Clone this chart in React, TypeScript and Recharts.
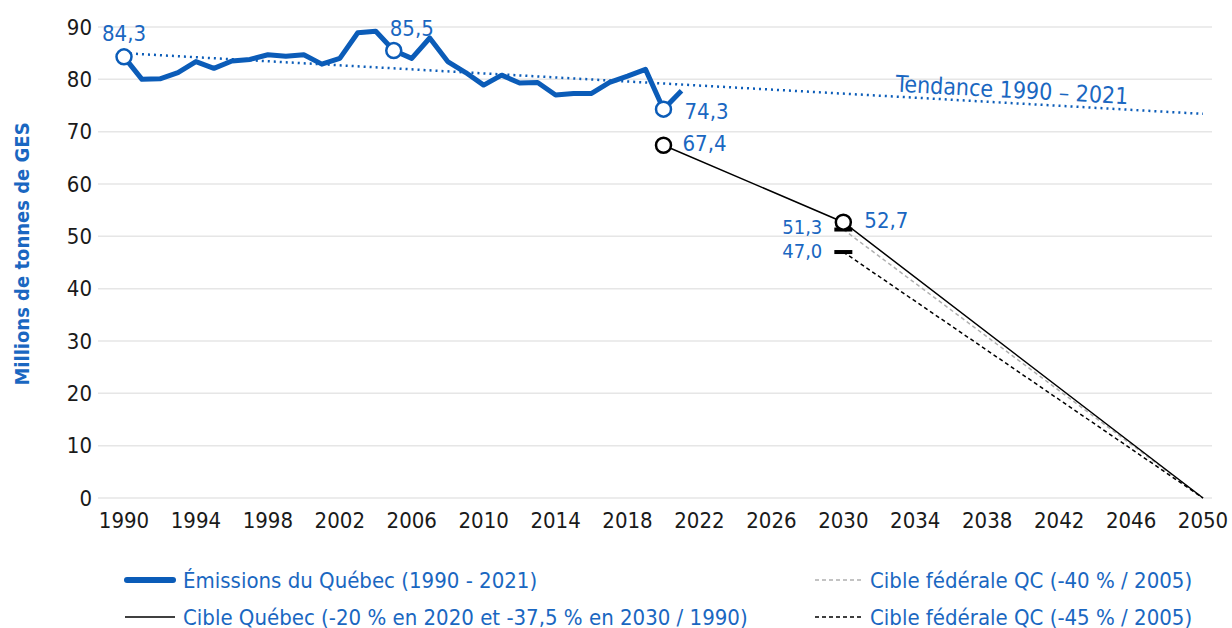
import React from 'react';
import { ComposedChart, Line, XAxis, YAxis, CartesianGrid, Legend } from 'recharts';

const emissionYears = [1990, 1991, 1992, 1993, 1994, 1995, 1996, 1997, 1998, 1999, 2000, 2001, 2002, 2003, 2004, 2005, 2006, 2007, 2008, 2009, 2010, 2011, 2012, 2013, 2014, 2015, 2016, 2017, 2018, 2019, 2020, 2021];
const emissionValues = [84.3, 80.0, 80.1, 81.3, 83.4, 82.1, 83.5, 83.8, 84.7, 84.4, 84.7, 82.9, 84.0, 88.9, 89.2, 85.5, 84.0, 87.9, 83.4, 81.3, 78.9, 80.8, 79.3, 79.4, 77.0, 77.3, 77.3, 79.4, 80.6, 81.9, 74.3, 77.8];
const highlightedYears = [1990, 2005, 2020];

const trendYears = [1990, 2050];
const trendValues = [85.0, 73.4];

const quebecTargetYears = [2020, 2030, 2050];
const quebecTargetValues = [67.4, 52.7, 0];

const federal40Years = [2030, 2050];
const federal40Values = [51.3, 0];

const federal45Years = [2030, 2050];
const federal45Values = [47.0, 0];

const xTicks = [1990, 1994, 1998, 2002, 2006, 2010, 2014, 2018, 2022, 2026, 2030, 2034, 2038, 2042, 2046, 2050];
const yTicks = [0, 10, 20, 30, 40, 50, 60, 70, 80, 90];

const yAxisTitle = 'Millions de tonnes de GES';
const trendTitle = 'Tendance 1990 – 2021';
const legendEmissions = 'Émissions du Québec (1990 - 2021)';
const legendQuebec = 'Cible Québec (-20 % en 2020 et -37,5 % en 2030 / 1990)';
const legendFed40 = 'Cible fédérale QC (-40 % / 2005)';
const legendFed45 = 'Cible fédérale QC (-45 % / 2005)';

const toSeries = (years: number[], values: number[]) => years.map((year, i) => ({ year, value: values[i] }));

const emissionsData = toSeries(emissionYears, emissionValues);
const trendData = toSeries(trendYears, trendValues);
const quebecData = toSeries(quebecTargetYears, quebecTargetValues);
const fed40Data = toSeries(federal40Years, federal40Values);
const fed45Data = toSeries(federal45Years, federal45Values);

const FONT = "'Liberation Sans Narrow', 'Arial Narrow', 'DejaVu Sans Condensed', sans-serif";
const BLUE = '#0b5cb8';
const TEXT_BLUE = '#1a67c1';
const FS = 22;

const fmt = (v: number) => v.toFixed(1).replace('.', ',');

const labelText = (x: number, y: number, text: string, anchor: 'start' | 'middle' | 'end', key: string, size = FS) => (
  <text key={key} x={x} y={y} textAnchor={anchor} dominantBaseline="central" fill={TEXT_BLUE} fontSize={size} fontFamily={FONT}>
    {text}
  </text>
);

const emissionLabelPos: Record<number, [number, number, 'start' | 'middle' | 'end']> = {
  1990: [0, -23, 'middle'],
  2005: [18, -22, 'middle'],
  2020: [21, 2, 'start'],
};
const quebecLabelPos: Record<number, [number, number, 'start' | 'middle' | 'end']> = {
  2020: [19, -2, 'start'],
  2030: [21, -2, 'start'],
};

const LegendContent = () => (
  <svg width={1232} height={90} style={{ overflow: 'visible', display: 'block' }}>
    <line x1={127} x2={173} y1={30} y2={30} stroke={BLUE} strokeWidth={6} strokeLinecap="round" />
    <text x={183} y={30} dominantBaseline="central" fill={TEXT_BLUE} fontSize={FS} fontFamily={FONT}>{legendEmissions}</text>
    <line x1={125} x2={175} y1={67} y2={67} stroke="#000" strokeWidth={1.5} />
    <text x={183} y={67} dominantBaseline="central" fill={TEXT_BLUE} fontSize={FS} fontFamily={FONT}>{legendQuebec}</text>
    <line x1={815} x2={862} y1={30} y2={30} stroke="#b0b0b0" strokeWidth={1.5} strokeDasharray="4 3" />
    <text x={870} y={30} dominantBaseline="central" fill={TEXT_BLUE} fontSize={FS} fontFamily={FONT}>{legendFed40}</text>
    <line x1={815} x2={862} y1={67} y2={67} stroke="#000" strokeWidth={1.5} strokeDasharray="4 3" />
    <text x={870} y={67} dominantBaseline="central" fill={TEXT_BLUE} fontSize={FS} fontFamily={FONT}>{legendFed45}</text>
  </svg>
);

export default function App() {
  return (
    <div style={{ position: 'absolute', left: 0, top: 0, width: 1232, height: 628, background: '#fff' }}>
      <ComposedChart width={1232} height={628} margin={{ top: 27, right: 20, bottom: 100, left: 0 }}>
        <CartesianGrid vertical={false} stroke="#e6e6e6" strokeWidth={1.5} />
        <XAxis
          type="number"
          dataKey="year"
          domain={[1990, 2050]}
          ticks={xTicks}
          padding={{ left: 26, right: 9 }}
          axisLine={false}
          tickLine={false}
          tickSize={0}
          tickMargin={14}
          height={30}
          tick={{ fill: '#1a1a1a', fontSize: FS, fontFamily: FONT }}
        />
        <YAxis
          type="number"
          domain={[0, 90]}
          ticks={yTicks}
          width={98}
          axisLine={false}
          tickLine={false}
          tickSize={0}
          tickMargin={6}
          tick={{ fill: '#1a1a1a', fontSize: FS, fontFamily: FONT }}
          label={{
            content: () => (
              <text
                x={22}
                y={254}
                transform="rotate(-90, 22, 254)"
                textAnchor="middle"
                dominantBaseline="central"
                fill={TEXT_BLUE}
                fontSize={20}
                fontWeight="bold"
                fontFamily={FONT}
              >
                {yAxisTitle}
              </text>
            ),
          }}
        />
        <Legend
          content={<LegendContent />}
          wrapperStyle={{ position: 'absolute', left: 0, top: 550, width: 1232, height: 0 }}
        />
        <Line
          data={trendData}
          dataKey="value"
          name={trendTitle}
          stroke={BLUE}
          strokeWidth={2.5}
          strokeDasharray="2 4"
          dot={false}
          activeDot={false}
          legendType="none"
          isAnimationActive={false}
          label={(p: any) => {
            if (p.index !== 1) return <g key={`tl${p.index}`} />;
            const cx = p.x - 191;
            const cy = p.y - 24;
            return (
              <text
                key="trendlabel"
                x={cx}
                y={cy}
                textAnchor="middle"
                dominantBaseline="central"
                transform={`rotate(3.1, ${cx}, ${cy})`}
                fill={TEXT_BLUE}
                fontSize={FS + 1}
                fontFamily={FONT}
              >
                {trendTitle}
              </text>
            );
          }}
        />
        <Line
          data={fed40Data}
          dataKey="value"
          name={legendFed40}
          stroke="#b0b0b0"
          strokeWidth={1.5}
          strokeDasharray="4 3"
          isAnimationActive={false}
          activeDot={false}
          dot={(p: any) =>
            p.index === 0 ? (
              <rect key="f40dot" x={p.cx - 9} y={p.cy - 2} width={18} height={4} fill="#000" />
            ) : (
              <g key={`f40d${p.index}`} />
            )
          }
          label={(p: any) =>
            p.index === 0 ? labelText(p.x - 21, p.y - 3, fmt(p.value), 'end', 'f40l', 20) : <g key={`f40l${p.index}`} />
          }
        />
        <Line
          data={fed45Data}
          dataKey="value"
          name={legendFed45}
          stroke="#000"
          strokeWidth={1.5}
          strokeDasharray="4 3"
          isAnimationActive={false}
          activeDot={false}
          dot={(p: any) =>
            p.index === 0 ? (
              <rect key="f45dot" x={p.cx - 9} y={p.cy - 2} width={18} height={4} fill="#000" />
            ) : (
              <g key={`f45d${p.index}`} />
            )
          }
          label={(p: any) =>
            p.index === 0 ? labelText(p.x - 21, p.y - 1, fmt(p.value), 'end', 'f45l', 20) : <g key={`f45l${p.index}`} />
          }
        />
        <Line
          data={quebecData}
          dataKey="value"
          name={legendQuebec}
          stroke="#000"
          strokeWidth={1.5}
          isAnimationActive={false}
          activeDot={false}
          dot={(p: any) => {
            const year = p.payload.year;
            if (quebecLabelPos[year]) {
              return <circle key={`qd${p.index}`} cx={p.cx} cy={p.cy} r={7.5} fill="#fff" stroke="#000" strokeWidth={2.5} />;
            }
            return <g key={`qd${p.index}`} />;
          }}
          label={(p: any) => {
            const year = quebecTargetYears[p.index];
            const pos = quebecLabelPos[year];
            if (!pos) return <g key={`ql${p.index}`} />;
            return labelText(p.x + pos[0], p.y + pos[1], fmt(p.value), pos[2], `ql${p.index}`);
          }}
        />
        <Line
          data={emissionsData}
          dataKey="value"
          name={legendEmissions}
          stroke={BLUE}
          strokeWidth={5}
          strokeLinejoin="round"
          isAnimationActive={false}
          activeDot={false}
          dot={(p: any) => {
            const year = p.payload.year;
            if (highlightedYears.includes(year)) {
              return <circle key={`ed${p.index}`} cx={p.cx} cy={p.cy} r={7.5} fill="#fff" stroke={BLUE} strokeWidth={2.5} />;
            }
            return <g key={`ed${p.index}`} />;
          }}
          label={(p: any) => {
            const year = emissionYears[p.index];
            const pos = emissionLabelPos[year];
            if (!pos) return <g key={`el${p.index}`} />;
            return labelText(p.x + pos[0], p.y + pos[1], fmt(p.value), pos[2], `el${p.index}`);
          }}
        />
      </ComposedChart>
    </div>
  );
}
